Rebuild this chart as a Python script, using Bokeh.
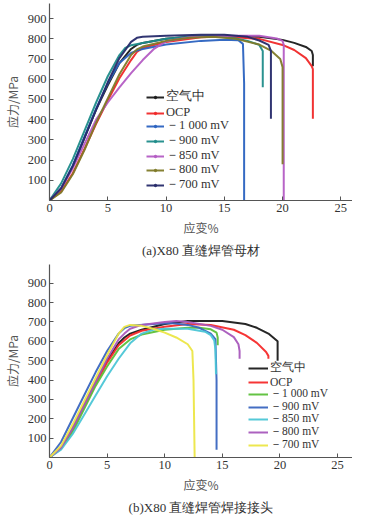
import math
from bokeh.plotting import figure
from bokeh.layouts import column
from bokeh.models import Legend, LegendItem, FixedTicker, Title, Range1d
from bokeh.embed import file_html
from bokeh.resources import INLINE

# ---------------- Data: panel (a) X80 base metal ----------------
labels_a = ["空气中", "OCP", "－1 000 mV", "－900 mV", "－850 mV", "－800 mV", "－700 mV"]
colors_a = ["#1a1a1a", "#f02828", "#2a62c0", "#1f8c8a", "#b45cc4", "#7f7a28", "#262a6a"]

air_a_x = [0, 1, 2, 3, 4, 5, 6, 7, 7.5, 8, 10, 12, 15, 18, 20, 21, 22, 22.5, 22.6, 22.6]
air_a_y = [0, 60, 170, 310, 450, 570, 680, 750, 770, 780, 800, 810, 815, 810, 795, 780, 760, 740, 720, 665]
ocp_a_x = [0, 1, 2, 3, 4, 5, 6, 7, 7.5, 8, 10, 13, 15, 18, 20, 21, 22, 22.5, 22.6, 22.6]
ocp_a_y = [0, 45, 135, 255, 380, 495, 605, 695, 735, 755, 785, 808, 812, 800, 770, 745, 705, 665, 650, 405]
m1000_a_x = [0, 1, 2, 3, 4, 5, 6, 7, 7.5, 8, 10, 13, 15, 16.2, 16.6, 16.7, 16.7]
m1000_a_y = [0, 60, 175, 315, 455, 580, 680, 730, 742, 750, 772, 790, 795, 793, 775, 580, 0]
m900_a_x = [0, 1, 2, 3, 4, 5, 6, 6.5, 7, 8, 10, 12, 14, 16, 17, 18, 18.3, 18.3]
m900_a_y = [0, 85, 205, 345, 485, 615, 720, 755, 768, 780, 800, 810, 815, 802, 790, 770, 740, 560]
m850_a_x = [0, 1, 2, 3, 4, 5, 6, 7, 8, 9, 10, 12, 15, 18, 19.5, 20, 20.1, 20.1]
m850_a_y = [0, 60, 160, 280, 400, 485, 560, 630, 695, 752, 788, 808, 815, 815, 802, 790, 770, 0]
m800_a_x = [0, 1, 2, 3, 4, 5, 6, 7, 7.5, 8, 10, 12, 14, 16, 18, 19, 19.8, 20.0, 20.0]
m800_a_y = [0, 40, 130, 250, 385, 505, 625, 720, 748, 762, 790, 805, 810, 800, 772, 742, 700, 660, 180]
m700_a_x = [0, 1, 2, 3, 4, 5, 6, 7, 7.5, 8, 10, 13, 15, 17, 18, 18.8, 19, 19, 19]
m700_a_y = [0, 60, 170, 310, 450, 585, 705, 785, 805, 810, 815, 820, 820, 810, 792, 770, 740, 405, 405]

xs_a = [air_a_x, ocp_a_x, m1000_a_x, m900_a_x, m850_a_x, m800_a_x, m700_a_x]
ys_a = [air_a_y, ocp_a_y, m1000_a_y, m900_a_y, m850_a_y, m800_a_y, m700_a_y]

# ---------------- Data: panel (b) X80 weld joint ----------------
labels_b = ["空气中", "OCP", "－1 000 mV", "－900 mV", "－850 mV", "－800 mV", "－700 mV"]
colors_b = ["#1a1a1a", "#f52a2a", "#5cc03a", "#3a66c0", "#4cc6d6", "#a858bc", "#ece646"]

air_b_x = [0, 1, 2, 3, 4, 5, 6, 6.5, 7, 8, 10, 12, 15, 17, 18, 19, 19.8, 19.8]
air_b_y = [0, 50, 150, 270, 390, 500, 590, 620, 640, 660, 690, 705, 705, 690, 670, 640, 600, 500]
ocp_b_x = [0, 1, 2, 3, 4, 5, 6, 7, 8, 10, 12, 14, 16, 17, 18, 18.8, 19.0, 19.0]
ocp_b_y = [0, 50, 140, 260, 380, 490, 580, 630, 655, 675, 690, 685, 660, 632, 592, 545, 525, 510]
m1000_b_x = [0, 1, 2, 3, 4, 5, 6, 7, 8, 10, 12, 13, 14, 14.5, 14.6, 14.6]
m1000_b_y = [0, 45, 130, 250, 370, 470, 560, 610, 635, 660, 670, 670, 662, 645, 620, 580]
m900_b_x = [0, 1, 2, 3, 4, 5, 6, 6.5, 7, 9, 10.5, 12, 13, 14, 14.4, 14.5, 14.5]
m900_b_y = [0, 80, 200, 320, 440, 550, 640, 668, 680, 690, 695, 685, 670, 640, 612, 400, 40]
m850_b_x = [0, 1, 2, 3, 4, 5, 6, 7, 8, 9, 10, 12, 13.5, 14, 14.3, 14.4, 14.45]
m850_b_y = [0, 40, 120, 220, 320, 420, 510, 590, 640, 660, 665, 665, 650, 632, 605, 560, 430]
m800_b_x = [0, 1, 2, 3, 4, 5, 6, 6.5, 7, 8, 10, 11, 12, 14, 15, 16, 16.4, 16.5, 16.5]
m800_b_y = [0, 50, 150, 270, 390, 510, 610, 640, 665, 685, 700, 705, 700, 680, 660, 622, 585, 550, 510]
m700_b_x = [0, 1, 2, 3, 4, 5, 6, 6.5, 7, 8, 9, 10, 11, 12, 12.4, 12.5, 12.6]
m700_b_y = [0, 60, 170, 290, 410, 530, 640, 675, 685, 680, 665, 645, 620, 585, 550, 400, 0]

xs_b = [air_b_x, ocp_b_x, m1000_b_x, m900_b_x, m850_b_x, m800_b_x, m700_b_x]
ys_b = [air_b_y, ocp_b_y, m1000_b_y, m900_b_y, m850_b_y, m800_b_y, m700_b_y]

x_ticks = [0, 5, 10, 15, 20, 25]
y_ticks = [100, 200, 300, 400, 500, 600, 700, 800, 900]

NUM_FONT = "Liberation Serif"
CJK_FONT = "Noto Sans CJK SC"


def make_panel(xs, ys, labels, colors, caption, ymax, xmax, border_left, border_top,
               border_bottom, height, legend_x, legend_y0, legend_step, glyph_w, markers,
               legend_font):
    p = figure(width=352, height=height, output_backend="svg", toolbar_location=None,
               x_range=Range1d(0, xmax), y_range=Range1d(0, ymax),
               min_border_left=border_left, min_border_right=0,
               min_border_top=border_top, min_border_bottom=border_bottom)
    p.outline_line_color = None
    p.grid.visible = False
    p.background_fill_color = "white"
    p.border_fill_color = "white"

    n = len(labels)
    for i, (x, y, lab, c) in enumerate(zip(xs, ys, labels, colors)):
        r = p.line(x, y, line_color=c, line_width=2.0, line_alpha=0.95)
        rs = [r]
        if markers:
            s = p.scatter([math.nan], [math.nan], size=2.5, color=c, marker="circle")
            rs.append(s)
        lg = Legend(items=[LegendItem(label=lab, renderers=rs)],
                    location=(legend_x, int(round(legend_y0 + legend_step * (n - 1 - i)))))
        lg.background_fill_alpha = 0
        lg.border_line_color = None
        lg.label_text_font = NUM_FONT
        lg.label_text_font_size = legend_font
        lg.label_text_color = "#333333"
        lg.label_height = 8
        lg.glyph_height = 6
        lg.glyph_width = glyph_w
        lg.spacing = 0
        lg.padding = 0
        lg.margin = 0
        lg.label_standoff = 2
        p.add_layout(lg, "center")

    for ax in (p.xaxis[0], p.yaxis[0]):
        ax.axis_line_color = "#555555"
        ax.axis_line_width = 1.2
        ax.major_tick_line_color = "#555555"
        ax.major_tick_in = 4
        ax.major_tick_out = 0
        ax.minor_tick_line_color = None
        ax.major_label_text_font = NUM_FONT
        ax.major_label_text_font_size = "12.5px"
        ax.major_label_text_color = "#333333"
        ax.axis_label_text_font = CJK_FONT
        ax.axis_label_text_font_style = "normal"
        ax.axis_label_text_font_size = "12px"
        ax.axis_label_text_color = "#555555"
    p.xaxis.ticker = FixedTicker(ticks=x_ticks)
    p.yaxis.ticker = FixedTicker(ticks=y_ticks)
    p.xaxis.axis_label = "应变%"
    p.yaxis.axis_label = "应力/MPa"
    p.xaxis.major_label_standoff = 3
    p.yaxis.major_label_standoff = 3
    p.xaxis.axis_label_standoff = 4
    p.yaxis.axis_label_standoff = 4

    t = Title(text=caption, align="center", text_font=NUM_FONT, text_font_size="13px",
              text_font_style="normal", text_color="#333333", standoff=4)
    p.add_layout(t, "below")
    return p


p1 = make_panel(xs_a, ys_a, labels_a, colors_a, "(a)X80 直缝焊管母材",
                ymax=975, xmax=26.0, border_left=40, border_top=3, border_bottom=61,
                height=261, legend_x=97, legend_y0=7, legend_step=14.7, glyph_w=18,
                markers=True, legend_font="12.5px")
p2 = make_panel(xs_b, ys_b, labels_b, colors_b, "(b)X80 直缝焊管焊接接头",
                ymax=997, xmax=26.3, border_left=38, border_top=3, border_bottom=57,
                height=255, legend_x=199, legend_y0=5, legend_step=12.8, glyph_w=20,
                markers=False, legend_font="11.5px")

layout = column(p1, p2, spacing=0)
open("out.html", "w").write(file_html(layout, INLINE))
